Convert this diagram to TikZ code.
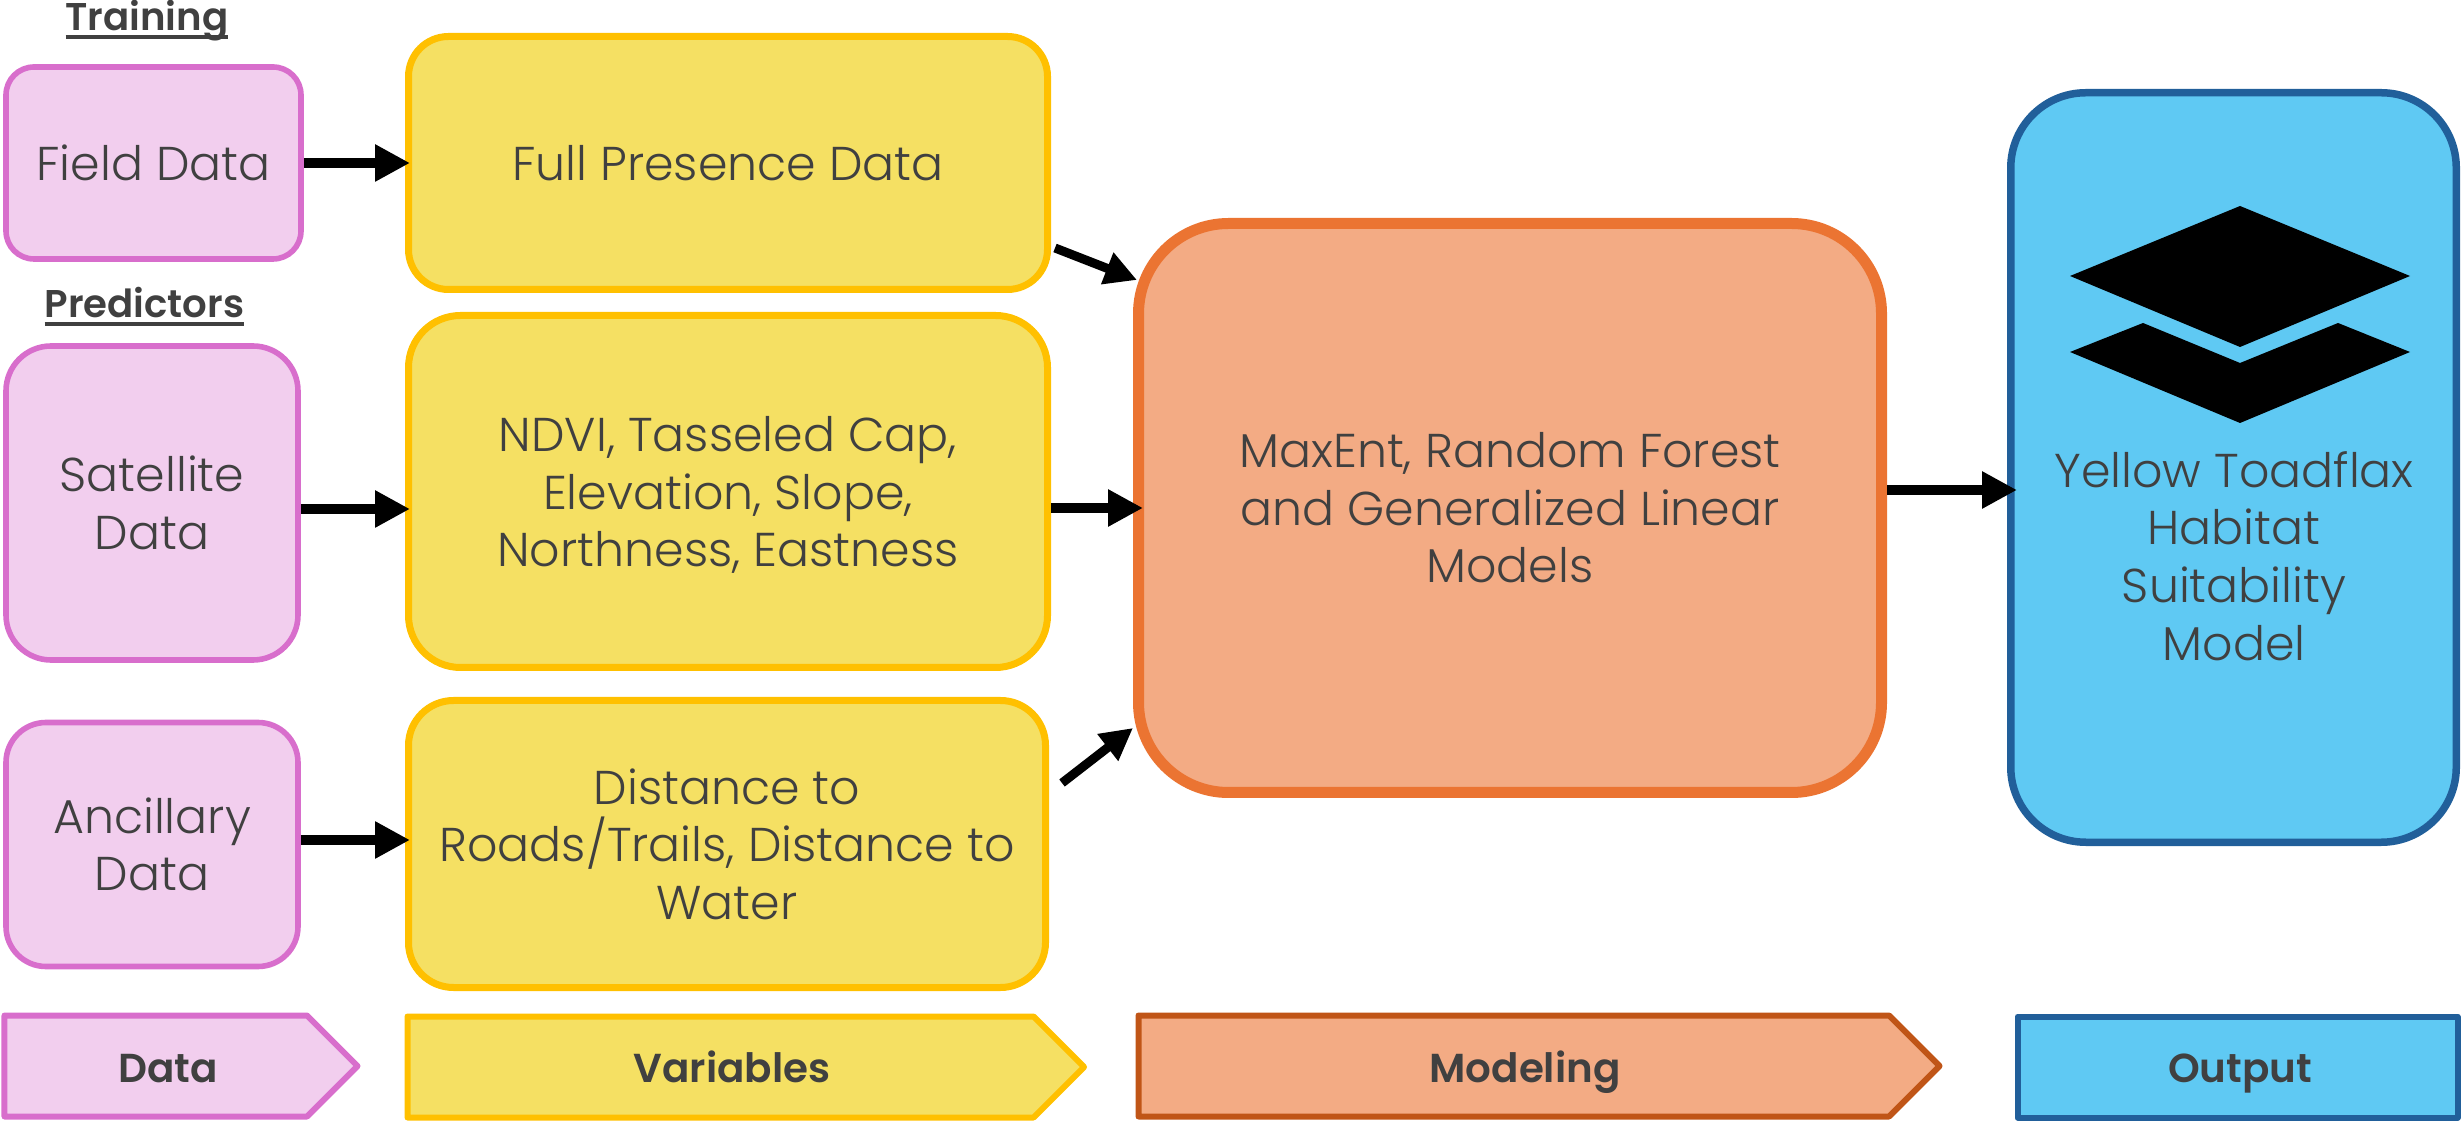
\documentclass[tikz,border=0pt]{standalone}
\usepackage{fontspec}
\setmainfont{Poppins}[UprightFont=* Light, BoldFont=* SemiBold]
\usetikzlibrary{arrows.meta, shapes.symbols}
\definecolor{inktext}{HTML}{404040}
\definecolor{pinkfill}{HTML}{F2CEEE}
\definecolor{pinkline}{HTML}{D86ECC}
\definecolor{yellowfill}{HTML}{F5E063}
\definecolor{yellowline}{HTML}{FFC000}
\definecolor{orangefill}{HTML}{F3AB84}
\definecolor{orangeline}{HTML}{EB7432}
\definecolor{rustline}{HTML}{C05517}
\definecolor{bluefill}{HTML}{5FC9F3}
\definecolor{blueline}{HTML}{215F9A}
\newcommand{\headrule}[1]{\vtop{\hbox{\vphantom{T}\smash{#1}}\kern1.2pt\hrule height 1.1pt}}
\tikzset{
box/.style={draw, align=center, text=inktext, inner sep=0pt, font=\fontsize{13.5}{16.4}\selectfont},
databox/.style={box, fill=pinkfill, draw=pinkline, line width=0.056cm},
varbox/.style={box, fill=yellowfill, draw=yellowline, line width=0.07cm},
modelbox/.style={box, fill=orangefill, draw=orangeline, line width=0.11cm, rounded corners=0.9cm},
outbox/.style={box, fill=bluefill, draw=blueline, line width=0.075cm, rounded corners=0.75cm},
boxtext/.style={align=center, text=inktext, inner sep=0pt, font=\fontsize{13.5}{16.4}\selectfont},
heading/.style={text=inktext, inner sep=0pt, anchor=base, font=\bfseries\fontsize{11}{14}\selectfont},
band/.style={anchor=west, inner sep=0pt, line width=0.06cm, line join=round, minimum height=1.01cm},
bandarrow/.style={band, draw, shape=signal, signal to=east, signal from=nowhere, signal pointer angle=90},
bandtext/.style={text=inktext, inner sep=0pt, anchor=base, font=\bfseries\fontsize{11.5}{14}\selectfont},
flow/.style={-{Triangle[length=0.35cm,width=0.35cm]}, line width=0.1cm, black},
flowthin/.style={-{Triangle[length=0.32cm,width=0.32cm]}, line width=0.09cm, black},
layers/.pic={
  \fill[black] (22.40,2.06) -- (24.10,2.76) -- (22.40,3.47) -- (20.70,2.76) -- cycle;
  \fill[black] (20.70,3.52) -- (21.43,3.23) -- (22.40,3.63) -- (23.38,3.23) -- (24.10,3.52) -- (22.40,4.23) -- cycle;
  }
}
\begin{document}
\begin{tikzpicture}[x=1cm, y=-1cm]
\useasboundingbox (0,0) rectangle (24.63,11.21);
% headings
\node[heading] (training) at (1.47,0.31) {\headrule{Training}};
\node[heading] (predictors) at (1.445,3.18) {\headrule{Predictors}};
% data
\node[databox, rounded corners=0.28cm, minimum width=2.95cm, minimum height=1.92cm] (field) at (1.535,1.63) {Field Data};
\node[databox, rounded corners=0.45cm, minimum width=2.92cm, minimum height=3.14cm] (satellite) at (1.52,5.03) {Satellite\\Data};
\node[databox, rounded corners=0.4cm, minimum width=2.92cm, minimum height=2.44cm] (ancillary) at (1.52,8.445) {Ancillary\\Data};
% variables
\node[varbox, rounded corners=0.4cm, minimum width=6.39cm, minimum height=2.53cm] (presence) at (7.28,1.63) {Full Presence Data};
\node[varbox, rounded corners=0.52cm, minimum width=6.39cm, minimum height=3.52cm] (topo) at (7.28,4.915) {};
\node[boxtext] (topotext) at (7.28,4.95) {NDVI, Tasseled Cap,\\Elevation, Slope,\\Northness, Eastness};
\node[varbox, rounded corners=0.45cm, minimum width=6.37cm, minimum height=2.87cm] (distance) at (7.27,8.44) {Distance to\\Roads/Trails, Distance to\\Water};
% modeling and output
\node[modelbox, minimum width=7.43cm, minimum height=5.69cm] (models) at (15.10,5.08) {MaxEnt, Random Forest\\and Generalized Linear\\Models};
\node[outbox, minimum width=4.455cm, minimum height=7.495cm] (output) at (22.335,4.675) {};
\pic at (0,0) {layers};
\node[boxtext] (outputtext) at (22.34,5.56) {Yellow Toadflax\\Habitat\\Suitability\\Model};
% arrows
\coordinate (satelliteout) at ([yshift=-0.06cm]satellite.east);
\coordinate (ancillaryout) at ([yshift=0.045cm]ancillary.east);
\coordinate (modelsout) at ([yshift=0.18cm]models.east);
\coordinate (presenceout) at (10.55,2.48);
\coordinate (distanceout) at (10.62,7.83);
\draw[flow, shorten >=-0.05cm] (field.east) -- (field.east -| presence.west);
\draw[flow, shorten >=-0.05cm] (satelliteout) -- (satelliteout -| topo.west);
\draw[flow, shorten >=-0.05cm] (ancillaryout) -- (ancillaryout -| distance.west);
\draw[flowthin] (presenceout) -- (11.37,2.80);
\draw[flow, shorten >=-0.1cm] (models.west -| topo.east) -- (models.west);
\draw[flowthin] (distanceout) -- (11.33,7.28);
\draw[flow, shorten >=-0.1cm] (modelsout) -- (modelsout -| output.west);
% bands
\node[bandarrow, fill=pinkfill, draw=pinkline, minimum width=3.53cm] (databand) at (0.015,10.66) {};
\node[bandarrow, fill=yellowfill, draw=yellowline, minimum width=6.765cm] (varband) at (4.045,10.67) {};
\node[bandarrow, fill=orangefill, draw=rustline, minimum width=8.01cm] (modelband) at (11.355,10.66) {};
\node[band, draw, fill=bluefill, draw=blueline, minimum width=4.4cm] (outband) at (20.145,10.67) {};
\node[bandtext] (databandtext) at (1.68,10.82) {Data};
\node[bandtext] (varbandtext) at (7.32,10.82) {Variables};
\node[bandtext] (modelbandtext) at (15.25,10.82) {Modeling};
\node[bandtext] (outbandtext) at (22.40,10.82) {Output};
\end{tikzpicture}
\end{document}
